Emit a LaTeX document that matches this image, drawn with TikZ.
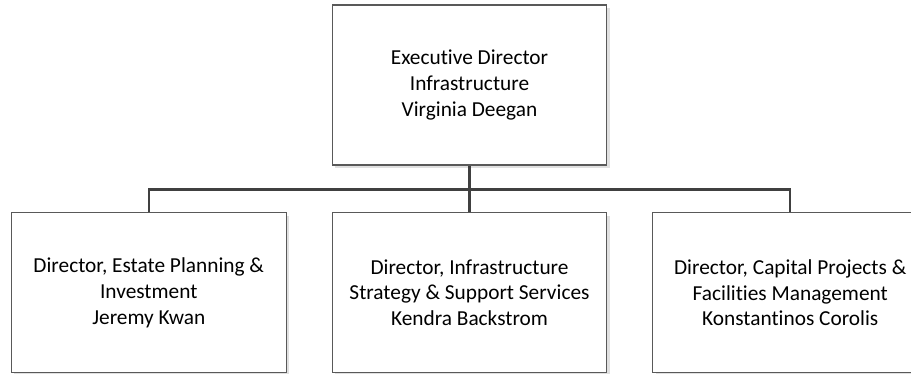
\documentclass[tikz,border=0pt]{standalone}
\usepackage{fontspec}
\setmainfont{Carlito}[Ligatures={NoCommon}]
\usetikzlibrary{calc}
\usetikzlibrary{positioning}
\usetikzlibrary{shadows}

\tikzset{
  orgbox/.style={draw=black!65, line width=0.8pt, fill=white, align=center,
    minimum width=206pt, minimum height=120pt, inner sep=0pt,
    font=\fontsize{16}{19.3}\selectfont,
    drop shadow={shadow xshift=2.2pt, shadow yshift=-2.2pt, fill=black!12, opacity=1}},
  link/.style={draw=black!75, line width=1.7pt}
}

\begin{document}
\begin{tikzpicture}[x=0.75pt, y=-0.75pt]
  \useasboundingbox (0,0) rectangle (911,374);
  % Top of the chart
  \node[orgbox] (exec) at (469.5,85) {Executive Director\\Infrastructure\\Virginia Deegan};

  % The three directors
  \node[orgbox, below=35pt of exec] (strat) {Director, Infrastructure\\Strategy \& Support Services\\Kendra Backstrom};
  \node[orgbox, left=33.75pt of strat] (estate) {Director, Estate Planning \&\\Investment\\Jeremy Kwan};
  \node[orgbox, right=33.75pt of strat] (capital) {Director, Capital Projects \&\\Facilities Management\\Konstantinos Corolis};

  % Connectors
  \coordinate (bus) at ($(exec.south)+(0,24)$);
  \draw[link] (estate.north) |- (bus -| capital.north) -- (capital.north);
  \draw[link] (exec.south) -- (strat.north);
\end{tikzpicture}
\end{document}
